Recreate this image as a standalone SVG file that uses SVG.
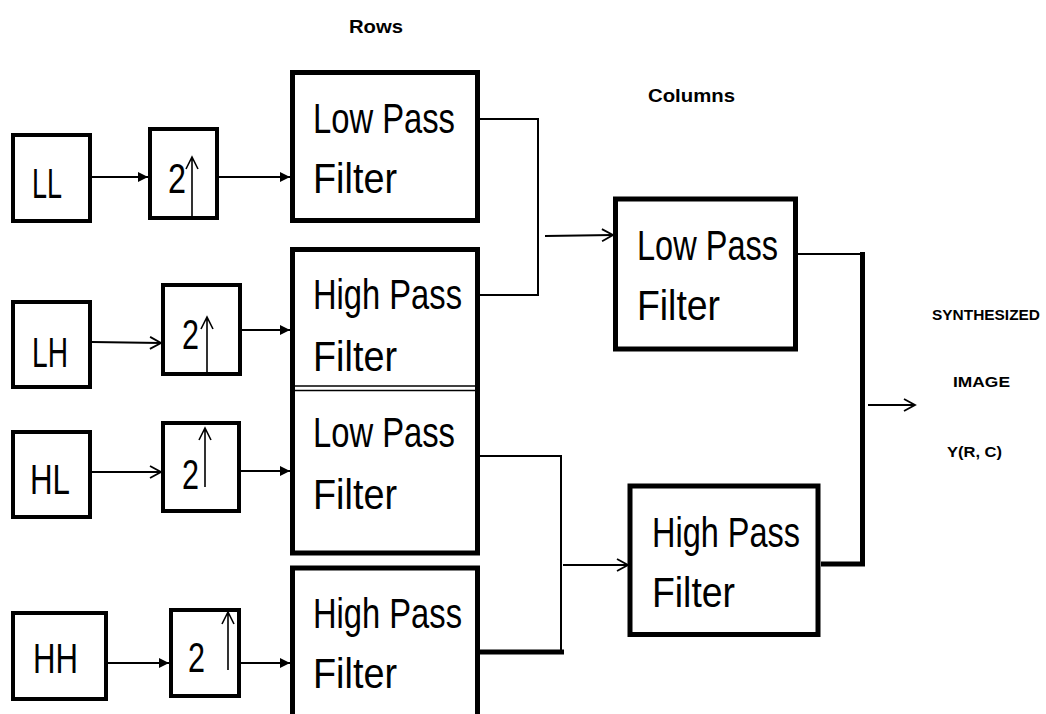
<svg xmlns="http://www.w3.org/2000/svg" width="1046" height="714" viewBox="0 0 1046 714">
<style>
.bg{fill:#fff}
.sbox{fill:none;stroke:#000;stroke-width:4}
.fbox{fill:none;stroke:#000;stroke-width:5}
.thin{fill:none;stroke:#000;stroke-width:1.6}
.wire{fill:none;stroke:#000;stroke-width:2}
.thick{fill:none;stroke:#000;stroke-width:5}
.big{font-family:"Liberation Sans",Arial,sans-serif;font-size:42px;fill:#000}
.lbl{font-family:"Liberation Sans",Arial,sans-serif;font-size:18px;font-weight:bold;fill:#000}
.sm{font-family:"Liberation Sans",Arial,sans-serif;font-size:15px;font-weight:bold;fill:#000}
</style>
<defs>
<marker id="fa" markerUnits="userSpaceOnUse" markerWidth="11" markerHeight="11" refX="10" refY="5" orient="auto">
<path d="M0,0 L10,5 L0,10 z" fill="#000"/>
</marker>
<marker id="oa" markerUnits="userSpaceOnUse" markerWidth="14" markerHeight="16" refX="12" refY="7" orient="auto">
<path d="M1,1 L12,7 L1,13" fill="none" stroke="#000" stroke-width="1.8"/>
</marker>
</defs>
<rect class="bg" x="0" y="0" width="1046" height="714"/>

<text class="lbl" x="349" y="33" textLength="54" lengthAdjust="spacingAndGlyphs">Rows</text>
<text class="lbl" x="648" y="102" textLength="87" lengthAdjust="spacingAndGlyphs">Columns</text>

<g id="LL">
<rect class="sbox" x="13" y="135" width="77" height="86"/>
<text class="big" x="32" y="198" textLength="30" lengthAdjust="spacingAndGlyphs">LL</text>
</g>
<g id="LH">
<rect class="sbox" x="13" y="302" width="77" height="85"/>
<text class="big" x="32" y="367" textLength="36" lengthAdjust="spacingAndGlyphs">LH</text>
</g>
<g id="HL">
<rect class="sbox" x="13" y="432" width="77" height="85"/>
<text class="big" x="30" y="494" textLength="40" lengthAdjust="spacingAndGlyphs">HL</text>
</g>
<g id="HH">
<rect class="sbox" x="13" y="613" width="93" height="86"/>
<text class="big" x="33" y="673" textLength="45" lengthAdjust="spacingAndGlyphs">HH</text>
</g>

<g id="up1">
<rect class="sbox" x="150" y="129" width="67" height="89"/>
<text class="big" x="168" y="193" textLength="18" lengthAdjust="spacingAndGlyphs">2</text>
<path class="thin" d="M192,216 V157 M186,169 L192,157 L198,169"/>
</g>
<g id="up2">
<rect class="sbox" x="163" y="285" width="77" height="89"/>
<text class="big" x="182" y="349" textLength="17" lengthAdjust="spacingAndGlyphs">2</text>
<path class="thin" d="M207,372 V317 M201,329 L207,317 L213,329"/>
</g>
<g id="up3">
<rect class="sbox" x="163" y="423" width="76" height="88"/>
<text class="big" x="182" y="489" textLength="17" lengthAdjust="spacingAndGlyphs">2</text>
<path class="thin" d="M205,487 V428 M199,440 L205,428 L211,440"/>
</g>
<g id="up4">
<rect class="sbox" x="171" y="610" width="68" height="86"/>
<text class="big" x="188" y="672" textLength="17" lengthAdjust="spacingAndGlyphs">2</text>
<path class="thin" d="M228,670 V612 M222,624 L228,612 L234,624"/>
</g>

<g id="rowLPF1">
<rect class="fbox" x="292.5" y="72.5" width="185" height="148"/>
<text class="big" x="313" y="133" textLength="142" lengthAdjust="spacingAndGlyphs">Low Pass</text>
<text class="big" x="313" y="193" textLength="84" lengthAdjust="spacingAndGlyphs">Filter</text>
</g>
<g id="rowHPF1">
<path class="fbox" d="M292.5,388 V249.5 H477.5 V388"/>
<line class="thin" x1="292" y1="386" x2="478" y2="386"/>
<text class="big" x="313" y="309" textLength="149" lengthAdjust="spacingAndGlyphs">High Pass</text>
<text class="big" x="313" y="371" textLength="84" lengthAdjust="spacingAndGlyphs">Filter</text>
</g>
<g id="rowLPF2">
<path class="fbox" d="M292.5,386 V553 H477.5 V386"/>
<line class="thin" x1="292" y1="390.5" x2="478" y2="390.5"/>
<text class="big" x="313" y="447" textLength="142" lengthAdjust="spacingAndGlyphs">Low Pass</text>
<text class="big" x="313" y="509" textLength="84" lengthAdjust="spacingAndGlyphs">Filter</text>
</g>
<g id="rowHPF2">
<rect class="fbox" x="292.5" y="568" width="185" height="170"/>
<text class="big" x="313" y="628" textLength="149" lengthAdjust="spacingAndGlyphs">High Pass</text>
<text class="big" x="313" y="688" textLength="84" lengthAdjust="spacingAndGlyphs">Filter</text>
</g>

<g id="colLPF">
<rect class="fbox" x="615.5" y="199" width="180" height="150"/>
<text class="big" x="637" y="260" textLength="141" lengthAdjust="spacingAndGlyphs">Low Pass</text>
<text class="big" x="637" y="320" textLength="83" lengthAdjust="spacingAndGlyphs">Filter</text>
</g>
<g id="colHPF">
<rect class="fbox" x="630" y="486" width="188" height="148.5"/>
<text class="big" x="652" y="547" textLength="148" lengthAdjust="spacingAndGlyphs">High Pass</text>
<text class="big" x="652" y="607" textLength="83" lengthAdjust="spacingAndGlyphs">Filter</text>
</g>

<g id="output">
<text class="sm" x="932" y="320" textLength="108" lengthAdjust="spacingAndGlyphs">SYNTHESIZED</text>
<text class="sm" x="953" y="387" textLength="57" lengthAdjust="spacingAndGlyphs">IMAGE</text>
<text class="sm" x="947" y="457" textLength="55" lengthAdjust="spacingAndGlyphs">Y(R, C)</text>
</g>

<g id="connectors">
<line class="wire" x1="92" y1="177" x2="148" y2="177" marker-end="url(#fa)"/>
<line class="wire" x1="219" y1="177" x2="290" y2="177" marker-end="url(#fa)"/>
<line class="wire" x1="92" y1="342" x2="161" y2="343" marker-end="url(#oa)"/>
<line class="wire" x1="242" y1="330" x2="290" y2="330" marker-end="url(#fa)"/>
<line class="wire" x1="92" y1="472" x2="161" y2="472" marker-end="url(#oa)"/>
<line class="wire" x1="241" y1="471" x2="290" y2="471" marker-end="url(#fa)"/>
<line class="wire" x1="108" y1="663" x2="169" y2="663" marker-end="url(#fa)"/>
<line class="wire" x1="241" y1="663" x2="290" y2="663" marker-end="url(#fa)"/>

<path class="wire" d="M480,119 H538 V295 H480"/>
<line class="wire" x1="545" y1="236" x2="613" y2="235" marker-end="url(#oa)"/>

<path class="wire" d="M480,456 H561 V652"/>
<line class="thick" x1="480" y1="652" x2="564" y2="652"/>
<line class="wire" x1="563" y1="565" x2="628" y2="565" marker-end="url(#oa)"/>

<line class="wire" x1="798" y1="254" x2="862" y2="254"/>
<path class="thick" d="M862.5,252 V566 M821,564 H865"/>
<line class="wire" x1="868" y1="405" x2="915" y2="405" marker-end="url(#oa)"/>
</g>
</svg>
